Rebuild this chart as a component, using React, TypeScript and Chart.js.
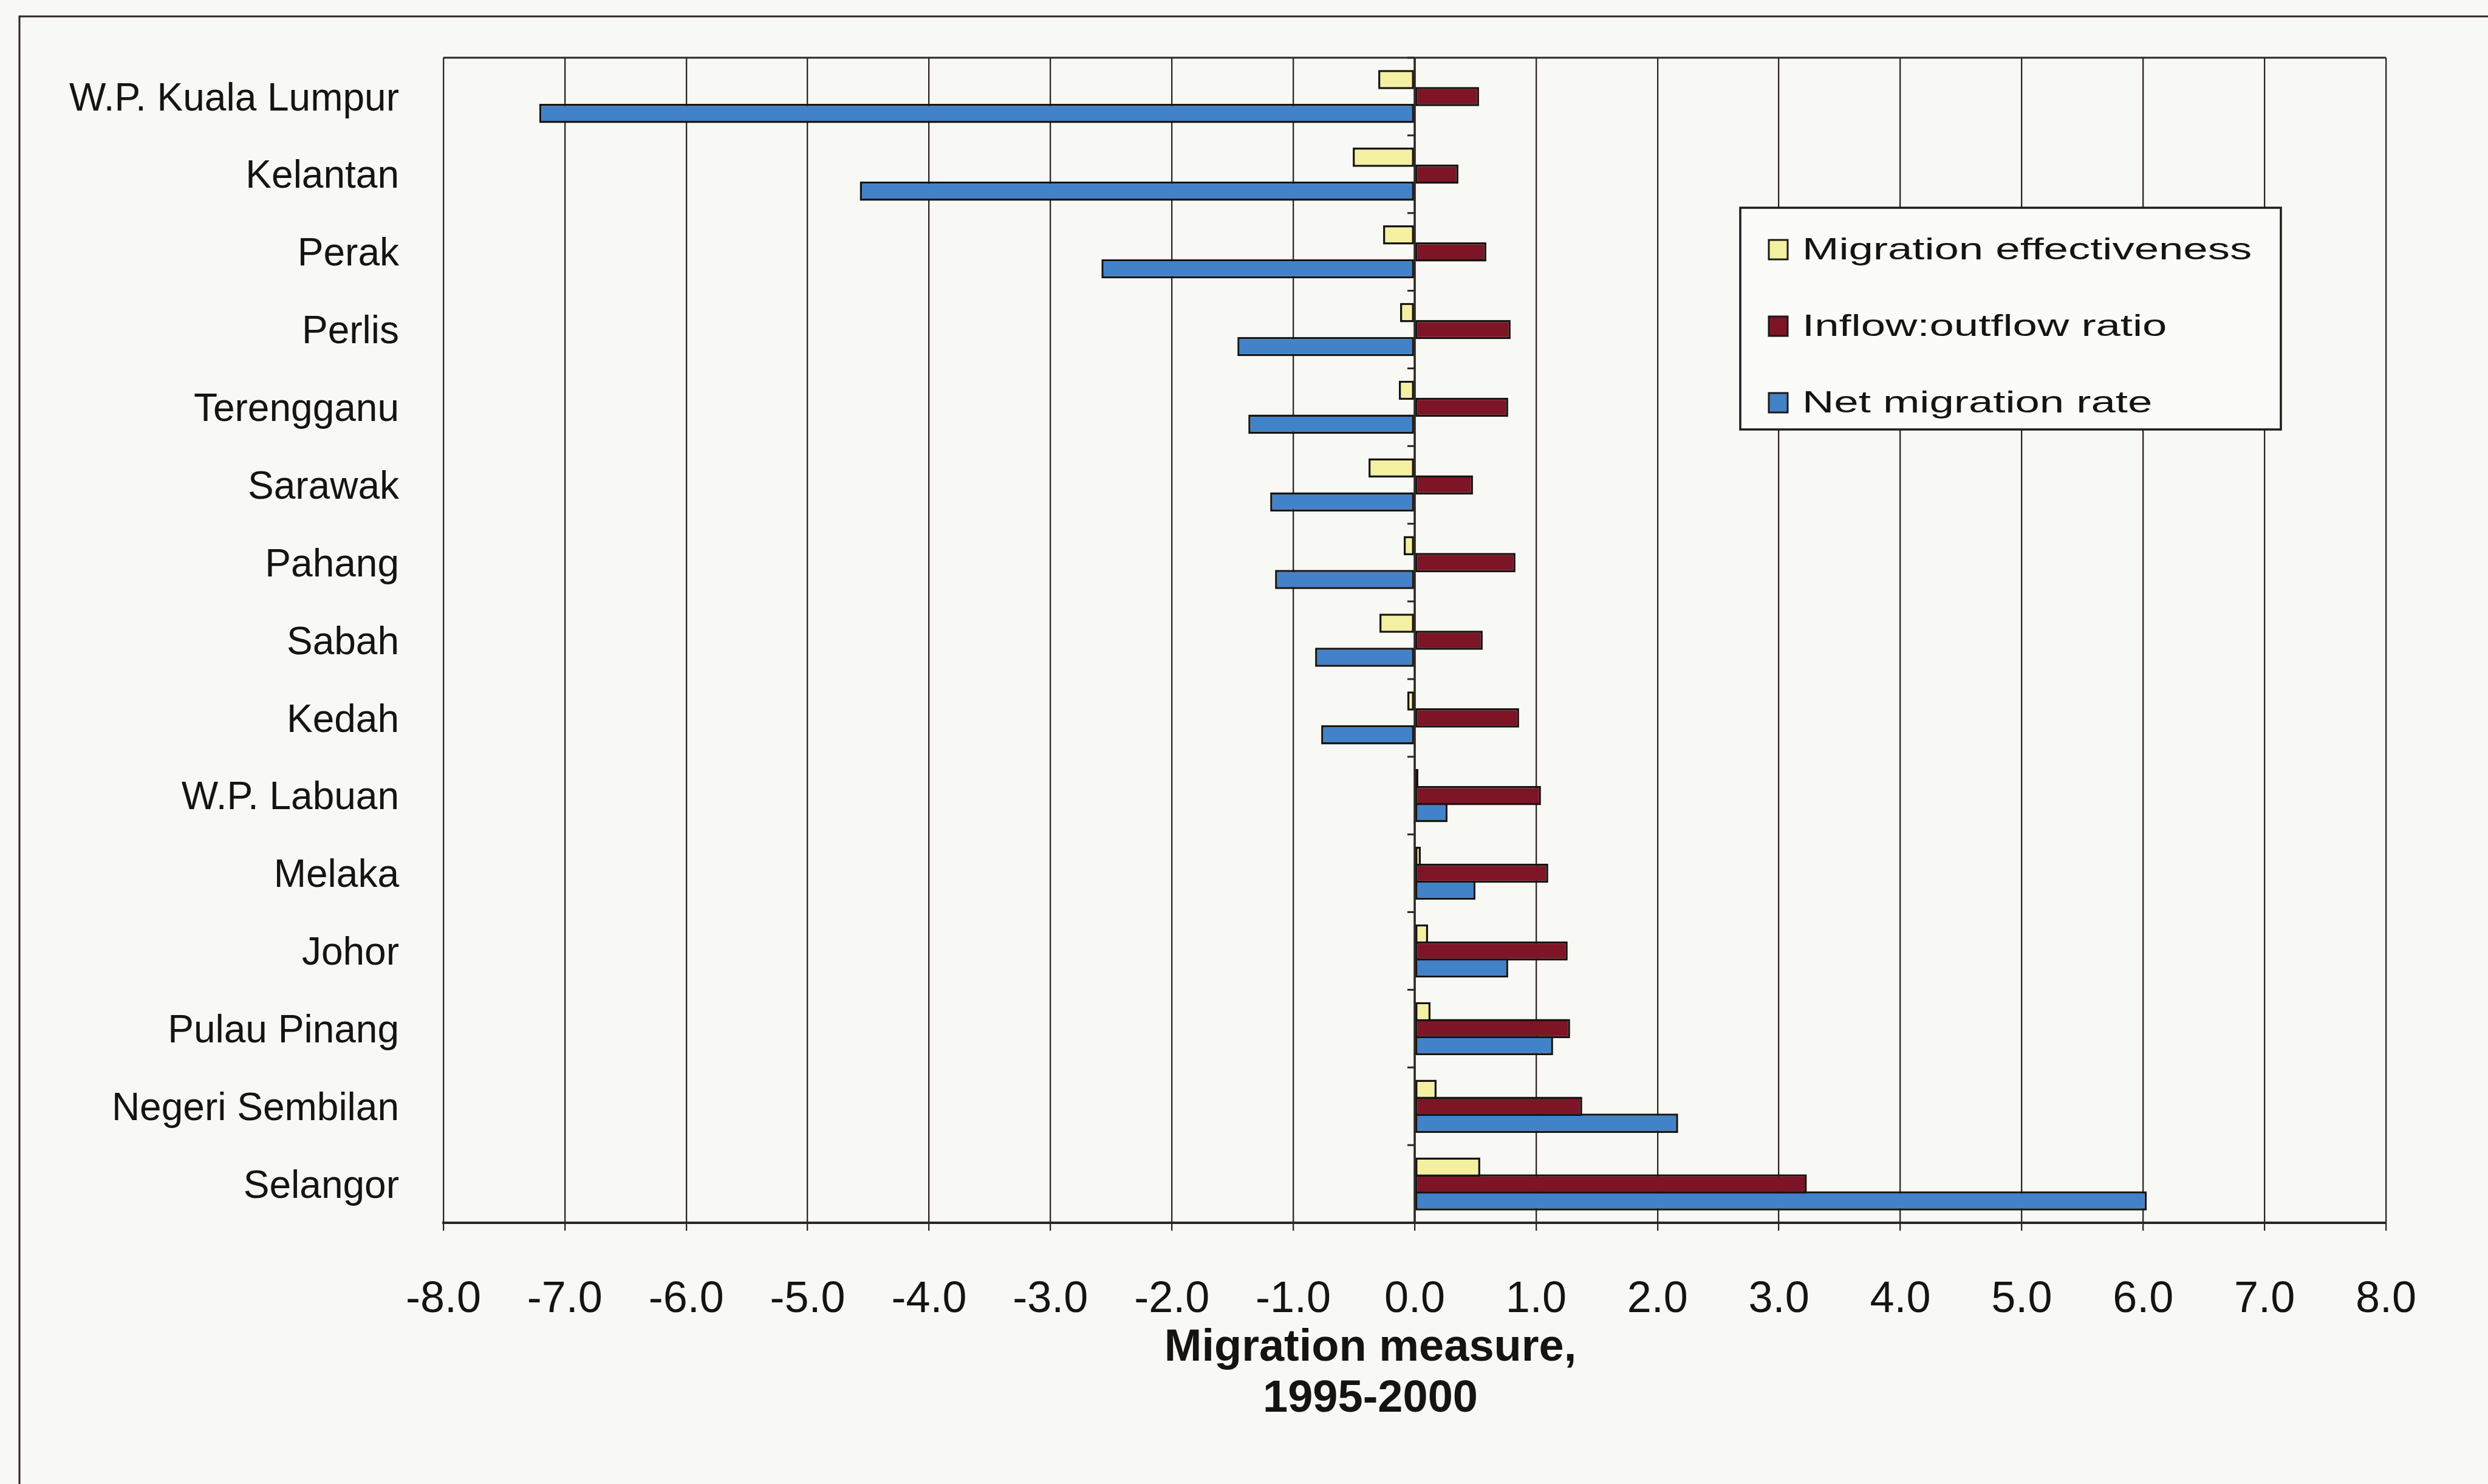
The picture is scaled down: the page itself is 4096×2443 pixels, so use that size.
import React, { useEffect, useRef } from "react";
import { Chart, registerables } from "chart.js";

Chart.register(...registerables);

// ---------- data ----------
const categories = [
  "W.P. Kuala Lumpur",
  "Kelantan",
  "Perak",
  "Perlis",
  "Terengganu",
  "Sarawak",
  "Pahang",
  "Sabah",
  "Kedah",
  "W.P. Labuan",
  "Melaka",
  "Johor",
  "Pulau Pinang",
  "Negeri Sembilan",
  "Selangor",
];
const migrationEffectiveness = [
  -0.3, -0.51, -0.26, -0.12, -0.13, -0.38, -0.09, -0.29, -0.06, 0.03, 0.05, 0.11, 0.13, 0.18, 0.54,
];
const inflowOutflowRatio = [
  0.53, 0.36, 0.59, 0.79, 0.77, 0.48, 0.83, 0.56, 0.86, 1.04, 1.1, 1.26, 1.28, 1.38, 3.23,
];
const netMigrationRate = [
  -7.21, -4.57, -2.58, -1.46, -1.37, -1.19, -1.15, -0.82, -0.77, 0.27, 0.5, 0.77, 1.14, 2.17, 6.03,
];
const seriesLabels = ["Migration effectiveness", "Inflow:outflow ratio", "Net migration rate"];
const seriesColors = ["#f4f0a2", "#7d1527", "#4282c8"];
const xTitleLines = ["Migration measure,", "1995-2000"];
const xMin = -8;
const xMax = 8;
const xStep = 1;

// ---------- layout (window px) ----------
const W = 4096;
const H = 2443;
const PLOT_LEFT = 730;
const PLOT_RIGHT = 3928;
const PLOT_TOP = 95;
const PLOT_BOTTOM = 2013;
const FONT = '"Liberation Sans", Arial, Helvetica, sans-serif';
const INK = "#161412";
const LINE = "#2e2622";

const decorPlugin = {
  id: "decor",
  beforeDraw(chart: any) {
    const ctx = chart.ctx;
    ctx.save();
    ctx.fillStyle = "#f8f8f5";
    ctx.fillRect(0, 0, chart.width, chart.height);
    // outer frame (top + left)
    ctx.strokeStyle = LINE;
    ctx.lineWidth = 3;
    ctx.beginPath();
    ctx.moveTo(32, H);
    ctx.lineTo(32, 27);
    ctx.lineTo(W, 27);
    ctx.stroke();
    ctx.restore();
  },
  afterDatasetsDraw(chart: any) {
    const { ctx, chartArea: ca, scales } = chart;
    const xs = scales.x;
    const ys = scales.y;
    ctx.save();
    ctx.strokeStyle = LINE;
    // top border of plot area
    ctx.lineWidth = 3;
    ctx.beginPath();
    ctx.moveTo(ca.left, ca.top);
    ctx.lineTo(ca.right, ca.top);
    ctx.stroke();
    // category axis at value 0
    const x0 = xs.getPixelForValue(0);
    ctx.lineWidth = 3.5;
    ctx.beginPath();
    ctx.moveTo(x0, ca.top);
    ctx.lineTo(x0, ca.bottom);
    ctx.stroke();
    ctx.lineWidth = 3;
    for (let i = 0; i <= categories.length; i++) {
      const py = ys.getPixelForValue(i - 0.5);
      ctx.beginPath();
      ctx.moveTo(x0 - 12, py);
      ctx.lineTo(x0, py);
      ctx.stroke();
    }

    // legend box
    const lx = 2865;
    const ly = 342;
    const lw = 890;
    const lh = 365;
    ctx.fillStyle = "#fbfbf9";
    ctx.fillRect(lx, ly, lw, lh);
    ctx.lineWidth = 3.5;
    ctx.strokeStyle = "#1e1a18";
    ctx.strokeRect(lx, ly, lw, lh);
    const centers = [411, 537, 663];
    chart.data.datasets.forEach((ds: any, i: number) => {
      const cy = centers[i];
      ctx.fillStyle = ds.backgroundColor;
      ctx.fillRect(2912, cy - 16, 31, 32);
      ctx.lineWidth = 3;
      ctx.strokeStyle = "#1e1a18";
      ctx.strokeRect(2912, cy - 16, 31, 32);
      ctx.save();
      ctx.translate(2967, cy);
      ctx.scale(1.45, 1);
      ctx.font = `50px ${FONT}`;
      ctx.textBaseline = "middle";
      ctx.textAlign = "left";
      ctx.fillStyle = INK;
      ctx.fillText(ds.label, 0, 2);
      ctx.restore();
    });
    ctx.restore();
  },
  afterDraw(chart: any) {
    const ctx = chart.ctx;
    ctx.save();
    ctx.font = `bold 74px ${FONT}`;
    ctx.textAlign = "center";
    ctx.textBaseline = "alphabetic";
    ctx.fillStyle = INK;
    ctx.fillText(xTitleLines[0], 2256, 2240);
    ctx.fillText(xTitleLines[1], 2256, 2324);
    ctx.restore();
  },
};

export default function App() {
  const ref = useRef<HTMLCanvasElement>(null);

  useEffect(() => {
    document.body.style.margin = "0";
    document.body.style.overflow = "hidden";
    const canvas = ref.current;
    if (!canvas) return;

    const datasets = [migrationEffectiveness, inflowOutflowRatio, netMigrationRate].map((d, i) => ({
      label: seriesLabels[i],
      data: d,
      backgroundColor: seriesColors[i],
      borderColor: "#171412",
      borderWidth: 3.5,
      borderSkipped: false as any,
      categoryPercentage: 0.655,
      barPercentage: 1.13,
    }));

    const chart = new Chart(canvas, {
      type: "bar",
      data: { labels: categories, datasets },
      plugins: [decorPlugin],
      options: {
        indexAxis: "y",
        responsive: false,
        animation: false,
        devicePixelRatio: 1,
        layout: {
          padding: { left: 0, top: PLOT_TOP, right: W - PLOT_RIGHT, bottom: 0 },
        },
        plugins: {
          legend: { display: false },
          tooltip: { enabled: false },
          title: { display: false },
        },
        scales: {
          x: {
            type: "linear",
            position: "bottom",
            min: xMin,
            max: xMax,
            afterFit: (scale: any) => {
              scale.height = H - PLOT_BOTTOM;
              scale.paddingLeft = 0;
              scale.paddingRight = 0;
            },
            ticks: {
              stepSize: xStep,
              autoSkip: false,
              maxRotation: 0,
              padding: 71,
              color: INK,
              font: { family: FONT, size: 72 },
              callback: (v: any) => Number(v).toFixed(1),
            },
            grid: {
              display: true,
              drawOnChartArea: true,
              drawTicks: true,
              tickLength: 13,
              color: LINE,
              lineWidth: 2.3,
            },
            border: { display: true, color: LINE, width: 4 },
          },
          y: {
            type: "category",
            position: "left",
            afterFit: (scale: any) => {
              scale.width = PLOT_LEFT;
              scale.paddingTop = 0;
              scale.paddingBottom = 0;
            },
            ticks: {
              autoSkip: false,
              padding: 73,
              labelOffset: 5,
              color: INK,
              font: { family: FONT, size: 64 },
            },
            grid: { display: false, drawTicks: false, tickLength: 0 },
            border: { display: false },
          },
        },
      } as any,
    });

    return () => chart.destroy();
  }, []);

  return (
    <div style={{ position: "absolute", left: 0, top: 0, width: W, height: H, overflow: "hidden" }}>
      <canvas ref={ref} width={W} height={H} style={{ display: "block", width: W, height: H }} />
    </div>
  );
}
